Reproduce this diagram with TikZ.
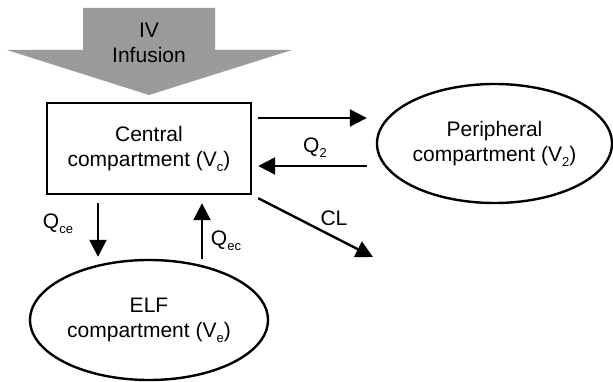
\documentclass[tikz,border=0pt]{standalone}
\usepackage{fontspec}
\setmainfont{Liberation Sans}
\usetikzlibrary{arrows.meta, shapes.geometric}
\definecolor{infusiongray}{RGB}{155,155,155}
\newcommand{\lowsub}[1]{\raisebox{-0.45ex}{\fontsize{13}{13}\selectfont #1}}

\begin{document}
\begin{tikzpicture}[x=1pt, y=1pt, line width=2.4pt,
	every node/.style={font=\fontsize{21}{25}\selectfont, align=center},
	flow/.style={-{Triangle[length=17pt, width=17pt]}},
	comp/.style={draw, ellipse, inner sep=0pt}]
	\useasboundingbox (0,0) rectangle (613,381);
	\fill[infusiongray] (83,373) -- (215,373) -- (215,331) -- (292,331) -- (149,286) -- (7,331) -- (83,331) -- cycle;
	\node[inner sep=0pt] (infusion) at (149,338) {IV\\Infusion};
	\node[draw, minimum width=204, minimum height=91] (central) at (149,232.5) {Central\\compartment (V\lowsub{c})};
	\node[comp, minimum width=235, minimum height=119] (peripheral) at (494.5,237.5) {Peripheral\\compartment (V\lowsub{2})};
	\node[comp, minimum width=238, minimum height=120] (elf) at (149,61) {ELF\\compartment (V\lowsub{e})};
	\coordinate (clend) at (373,124);
	\draw[flow] ([xshift=6, yshift=30.5]central.east) -- ([xshift=-9, yshift=25.5]peripheral.west);
	\draw[flow] ([xshift=-9, yshift=-22.5]peripheral.west) -- ([xshift=6, yshift=-17.5]central.east);
	\draw[flow] ([xshift=6, yshift=-3]central.south east) -- (clend);
	\draw[flow] ([xshift=-51, yshift=-8]central.south) -- ([xshift=-51, yshift=2]elf.north);
	\draw[flow] ([xshift=53]elf.north) -- ([xshift=53, yshift=-8]central.south);
	\node (qtwo) at (315,233) {Q\lowsub{2}};
	\node (cl) at (334,163) {CL};
	\node (qce) at (58,157) {Q\lowsub{ce}};
	\node (qec) at (226,140) {Q\lowsub{ec}};
\end{tikzpicture}
\end{document}
